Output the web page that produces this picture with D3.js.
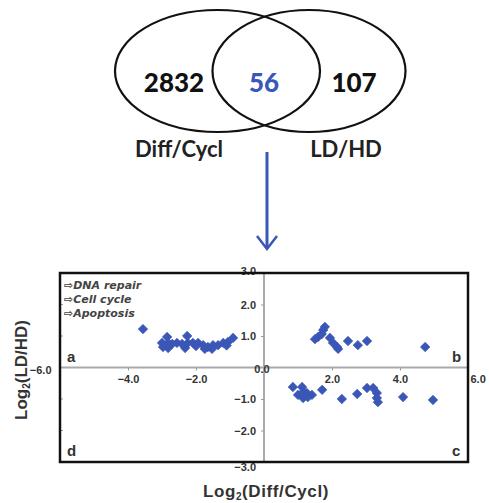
<!DOCTYPE html>
<html><head><meta charset="utf-8">
<script src="https://cdn.jsdelivr.net/npm/d3@7"></script>
<style>body{margin:0;background:#fff}svg{display:block}</style>
</head><body>
<svg id="c" width="489" height="503"></svg>
<script>
// Venn counts
const vennLabels = ["Diff/Cycl", "LD/HD"];
const vennCounts = [2832, 56, 107];

// Scatter data: log2(Diff/Cycl) vs log2(LD/HD)
const xVals = [-3.56,-3.0,-2.85,-2.82,-2.7,-2.56,-2.41,-2.26,-2.24,-2.09,-1.94,-1.79,-1.74,-1.65,-1.5,-1.35,-1.2,-1.06,-0.91,-2.97,-2.82,-2.32,-1.53,-2.0,-1.1,
  1.79,1.74,1.59,1.5,1.7,1.94,2.03,2.15,2.18,2.47,2.76,3.03,4.74,
  0.85,1.12,1.15,1.0,1.15,1.29,1.41,1.26,1.71,2.29,2.74,3.03,3.21,3.32,3.32,3.35,4.09,4.97];
const yVals = [1.22,0.78,0.97,0.78,0.75,0.78,0.75,1.0,0.78,0.78,0.78,0.71,0.59,0.65,0.71,0.71,0.78,0.81,0.94,0.65,0.62,0.62,0.59,0.68,0.7,
  1.29,1.19,0.97,0.9,1.06,0.94,0.78,0.65,0.59,0.84,0.71,0.84,0.65,
  -0.62,-0.62,-0.78,-0.87,-0.97,-0.94,-0.87,-0.81,-0.71,-1.0,-0.84,-0.65,-0.65,-0.81,-0.97,-1.1,-0.94,-1.03];
const xTicks = [-6,-4,-2,2,4,6];
const yTicks = [3,2,1,0,-1,-2,-3];
const legendItems = ["DNA repair","Cell cycle","Apoptosis"];
const quadrants = [["a",-6,0],["b",6,0],["c",6,-3],["d",-6,-3]];

const blue = "#3a57b7";
const svg = d3.select("#c");

// ---- Venn ----
const venn = svg.append("g");
venn.append("ellipse").attr("cx",217.5).attr("cy",71).attr("rx",102.5).attr("ry",61)
  .attr("fill","none").attr("stroke","#111").attr("stroke-width",2.2);
venn.append("ellipse").attr("cx",309).attr("cy",71).attr("rx",96.5).attr("ry",61)
  .attr("fill","none").attr("stroke","#111").attr("stroke-width",2.2);
const vf = "Lato, 'Open Sans', sans-serif";
const countX = [174, 264, 354];
vennCounts.forEach((v,i)=>{
  venn.append("text").attr("x",countX[i]).attr("y",92).attr("text-anchor","middle")
    .attr("font-family",vf).attr("font-weight",900).attr("font-size",26)
    .attr("fill", i===1 ? blue : "#111").text(v);
});
const labX = [179, 346];
vennLabels.forEach((t,i)=>{
  venn.append("text").attr("x",labX[i]).attr("y",157).attr("text-anchor","middle")
    .attr("font-family",vf).attr("font-weight",700).attr("font-size",22)
    .attr("fill","#222").text(t);
});
// arrow
venn.append("line").attr("x1",267).attr("y1",152).attr("x2",267).attr("y2",248)
  .attr("stroke",blue).attr("stroke-width",3);
venn.append("path").attr("d","M257,236 L267,249 L277,236").attr("fill","none")
  .attr("stroke",blue).attr("stroke-width",2.5);

// ---- Scatter ----
const x = d3.scaleLinear().domain([-6,6]).range([60,468]);
const y = d3.scaleLinear().domain([-3,3]).range([462,273]);
const tf = "'Liberation Sans', Arial, sans-serif";

// zero lines
svg.append("line").attr("x1",x(-6)).attr("x2",x(6)).attr("y1",y(0)).attr("y2",y(0))
  .attr("stroke","#aaa").attr("stroke-width",2);
svg.append("line").attr("x1",x(0)).attr("x2",x(0)).attr("y1",y(-3)).attr("y2",y(3))
  .attr("stroke","#aaa").attr("stroke-width",2);
// small ticks on left frame edge
svg.append("g").selectAll("line").data(yTicks.filter(d=>Math.abs(d)!==3 && d!==0)).join("line")
  .attr("x1",x(-6)).attr("x2",x(-6)+3).attr("y1",d=>y(d)).attr("y2",d=>y(d))
  .attr("stroke","#999").attr("stroke-width",1);

// x axis
const xAxis = svg.append("g").attr("transform",`translate(0,${y(0)})`)
  .call(d3.axisBottom(x).tickValues(xTicks).tickSize(3).tickPadding(5).tickFormat(d3.format(".1f")));
xAxis.select(".domain").remove();
xAxis.selectAll("line").attr("stroke","#999");
xAxis.selectAll("text").attr("font-family",tf).attr("font-weight",700).attr("font-size",11).attr("fill","#333");
xAxis.selectAll(".tick").filter(d=>d===-6).select("text").attr("text-anchor","end").attr("x",-9).attr("y",-1);
xAxis.selectAll(".tick").filter(d=>d===6).select("text").attr("text-anchor","start").attr("x",2);
xAxis.selectAll(".tick").filter(d=>Math.abs(d)===6).select("line").remove();

// y axis
const yAxis = svg.append("g").attr("transform",`translate(${x(0)},0)`)
  .call(d3.axisLeft(y).tickValues(yTicks).tickSize(3).tickPadding(5).tickFormat(d3.format(".1f")));
yAxis.select(".domain").remove();
yAxis.selectAll("line").attr("stroke","#999");
yAxis.selectAll("text").attr("font-family",tf).attr("font-weight",700).attr("font-size",11).attr("fill","#333");
yAxis.selectAll(".tick").filter(d=>d===3).select("text").attr("dy","0.1em");
yAxis.selectAll(".tick").filter(d=>d===-3).select("text").attr("dy","0.75em");
yAxis.selectAll(".tick").filter(d=>d===0).select("text").attr("text-anchor","middle").attr("x",-2).attr("dy","0.45em");
yAxis.selectAll(".tick").filter(d=>Math.abs(d)===3||d===0).select("line").remove();

// frame
svg.append("rect").attr("x",x(-6)).attr("y",y(3)).attr("width",x(6)-x(-6)).attr("height",y(-3)-y(3))
  .attr("fill","none").attr("stroke","#111").attr("stroke-width",2.5);

// points
const pts = xVals.map((v,i)=>[v,yVals[i]]);
svg.append("g").selectAll("path").data(pts).join("path")
  .attr("transform",d=>`translate(${x(d[0])},${y(d[1])})`)
  .attr("d",d3.symbol(d3.symbolDiamond2,56))
  .attr("fill",blue).attr("stroke",blue).attr("stroke-width",0.8).attr("stroke-linejoin","round");

// legend
svg.append("g").selectAll("text").data(legendItems).join("text")
  .attr("x",x(-6)+4).attr("y",(d,i)=>289+i*14)
  .attr("font-family","'DejaVu Sans', sans-serif").attr("font-weight",700).attr("font-style","italic").attr("font-size",11)
  .attr("fill","#444").text(d=>"\u21E8"+d);

// quadrant letters
svg.append("g").selectAll("text").data(quadrants).join("text")
  .attr("x",d=>d[1]<0 ? x(d[1])+7 : x(d[1])-16)
  .attr("y",d=>y(d[2])-6)
  .attr("font-family",tf).attr("font-weight",700).attr("font-size",15).attr("fill","#333")
  .text(d=>d[0]);

// axis titles
const xt = svg.append("text").attr("x",266).attr("y",497).attr("text-anchor","middle")
  .attr("font-family",tf).attr("font-weight",700).attr("font-size",17).attr("fill","#333")
  .attr("letter-spacing",0.6);
xt.append("tspan").text("Log");
xt.append("tspan").attr("font-size",10).attr("dy",3).text("2");
xt.append("tspan").attr("dy",-3).text("(Diff/Cycl)");
const yt = svg.append("text").attr("transform","translate(27,370) rotate(-90)").attr("text-anchor","middle")
  .attr("font-family",tf).attr("font-weight",700).attr("font-size",17).attr("fill","#333");
yt.append("tspan").text("Log");
yt.append("tspan").attr("font-size",10).attr("dy",3).text("2");
yt.append("tspan").attr("dy",-3).text("(LD/HD)");
</script>
</body></html>
